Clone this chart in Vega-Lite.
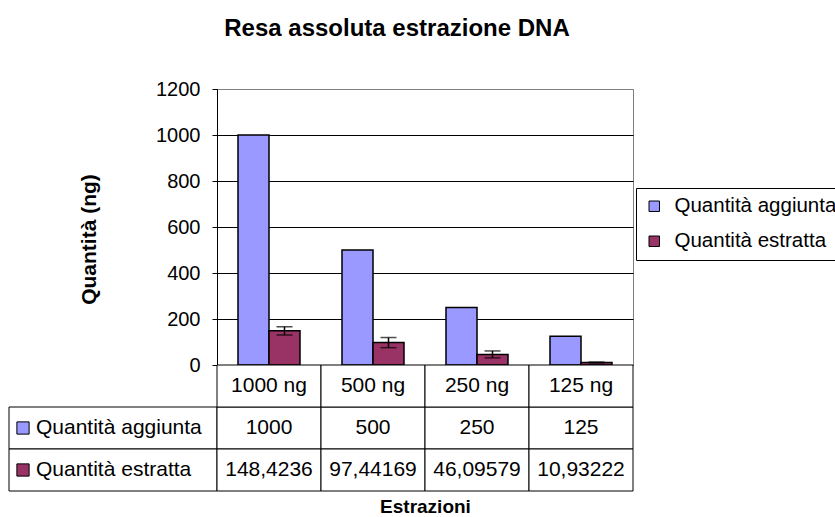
{
  "$schema": "https://vega.github.io/schema/vega-lite/v6.json",
  "background": "white",
  "padding": {"left": 8, "top": 16, "right": 0, "bottom": 2},
  "title": {"text": "Resa assoluta estrazione DNA", "fontSize": 24, "fontWeight": "bold", "anchor": "middle", "dx": -30, "offset": 38, "color": "black"},
  "datasets": {
    "d": [
      {"cat": "1000 ng", "series": "Quantità aggiunta", "value": 1000},
      {"cat": "1000 ng", "series": "Quantità estratta", "value": 148.4236, "err": 18},
      {"cat": "500 ng", "series": "Quantità aggiunta", "value": 500},
      {"cat": "500 ng", "series": "Quantità estratta", "value": 97.44169, "err": 22},
      {"cat": "250 ng", "series": "Quantità aggiunta", "value": 250},
      {"cat": "250 ng", "series": "Quantità estratta", "value": 46.09579, "err": 15},
      {"cat": "125 ng", "series": "Quantità aggiunta", "value": 125},
      {"cat": "125 ng", "series": "Quantità estratta", "value": 10.93222, "err": 2}
    ]
  },
  "columns": 2,
  "spacing": 0,
  "bounds": "flush",
  "concat": [
    {
      "width": 208, "height": 276,
      "data": {"values": []},
      "mark": "text",
      "encoding": {},
      "view": {"stroke": null}
    },
    {
      "width": 416, "height": 276,
      "data": {"name": "d"},
      "view": {"stroke": "#808080", "strokeWidth": 1},
      "encoding": {
        "x": {"field": "cat", "type": "nominal", "sort": null,
              "scale": {"domain": ["1000 ng", "500 ng", "250 ng", "125 ng"], "paddingInner": 0.4038, "paddingOuter": 0.2019},
              "axis": null},
        "xOffset": {"field": "series", "type": "nominal",
                    "scale": {"domain": ["Quantità aggiunta", "Quantità estratta"], "padding": 0}},
        "y": {"field": "value", "type": "quantitative",
              "scale": {"domain": [0, 1200], "nice": false},
              "axis": {
                "title": "Quantità (ng)", "titleFontSize": 21, "titleFontWeight": "bold", "titleColor": "black", "titlePadding": 56, "titleY": 150,
                "values": [0, 200, 400, 600, 800, 1000, 1200], "format": "d",
                "labelFontSize": 20, "labelColor": "black", "labelPadding": 12,
                "tickSize": 5, "tickColor": "black", "domainColor": "black",
                "grid": true, "gridOpacity": 1,
                "gridColor": {"condition": {"test": "datum.value === 1200", "value": "#808080"}, "value": "black"}
              }}
      },
      "layer": [
        {
          "mark": {"type": "bar", "stroke": "black", "strokeWidth": 1.5},
          "encoding": {
            "color": {"field": "series", "type": "nominal",
                      "scale": {"domain": ["Quantità aggiunta", "Quantità estratta"], "range": ["#9999FF", "#993366"]},
                      "legend": {"title": null, "orient": "none", "legendX": 627, "legendY": 99,
                                 "strokeColor": "black", "fillColor": "white", "padding": 8,
                                 "symbolType": "square", "symbolSize": 110, "symbolStrokeColor": "black", "symbolStrokeWidth": 1,
                                 "labelFontSize": 20.5, "labelColor": "black", "labelOffset": 10, "labelLimit": 0, "rowPadding": 14}}
          }
        },
        {
          "transform": [{"filter": "datum.series === 'Quantità estratta'"}],
          "mark": {"type": "errorbar", "ticks": {"size": 16, "color": "black", "thickness": 1.5}, "rule": {"color": "black", "strokeWidth": 1.5}},
          "encoding": {"yError": {"field": "err"}}
        }
      ]
    },
    {
      "width": 208, "height": 126,
      "data": {"name": "d"},
      "transform": [{"filter": "datum.cat === '1000 ng'"}],
      "view": {"stroke": null},
      "encoding": {
        "y": {"field": "series", "type": "nominal",
              "scale": {"domain": ["h", "Quantità aggiunta", "Quantità estratta"], "paddingInner": 0, "paddingOuter": 0},
              "axis": null}
      },
      "layer": [
        {
          "mark": {"type": "rect", "fill": "white", "stroke": "black", "strokeWidth": 1},
          "encoding": {
            "x": {"datum": 0, "type": "quantitative", "scale": {"domain": [0, 208], "nice": false, "zero": false}, "axis": null},
            "x2": {"datum": 208}
          }
        },
        {
          "mark": {"type": "point", "shape": "square", "size": 150, "filled": true, "stroke": "black", "strokeWidth": 1, "opacity": 1},
          "encoding": {
            "x": {"datum": 14, "type": "quantitative"},
            "color": {"field": "series", "type": "nominal",
                      "scale": {"domain": ["Quantità aggiunta", "Quantità estratta"], "range": ["#9999FF", "#993366"]},
                      "legend": null}
          }
        },
        {
          "mark": {"type": "text", "align": "left", "baseline": "middle", "fontSize": 21, "color": "black"},
          "encoding": {
            "x": {"datum": 27, "type": "quantitative"},
            "text": {"field": "series"}
          }
        }
      ]
    },
    {
      "width": 416, "height": 126,
      "data": {"name": "d"},
      "view": {"stroke": null},
      "encoding": {
        "x": {"field": "cat", "type": "nominal", "sort": null,
              "scale": {"domain": ["1000 ng", "500 ng", "250 ng", "125 ng"], "paddingInner": 0, "paddingOuter": 0},
              "axis": {"title": "Estrazioni", "labels": false, "ticks": false, "domain": false,
                       "titleFontSize": 19, "titleFontWeight": "bold", "titleColor": "black", "titlePadding": 6}},
        "y": {"field": "series", "type": "nominal",
              "scale": {"domain": ["h", "Quantità aggiunta", "Quantità estratta"], "paddingInner": 0, "paddingOuter": 0},
              "axis": null}
      },
      "layer": [
        {"mark": {"type": "rect", "fill": "white", "stroke": "black", "strokeWidth": 1}},
        {
          "transform": [{"filter": "datum.series === 'Quantità aggiunta'"}],
          "mark": {"type": "rect", "fill": "white", "stroke": "black", "strokeWidth": 1},
          "encoding": {"y": {"datum": "h"}}
        },
        {
          "mark": {"type": "text", "fontSize": 21, "color": "black", "baseline": "middle"},
          "encoding": {"text": {"field": "value", "type": "quantitative", "format": ".7~g"}}
        },
        {
          "transform": [{"filter": "datum.series === 'Quantità aggiunta'"}],
          "mark": {"type": "text", "fontSize": 21, "color": "black", "baseline": "middle"},
          "encoding": {"y": {"datum": "h"}, "text": {"field": "cat"}}
        }
      ]
    }
  ],
  "config": {
    "font": "Liberation Sans",
    "locale": {"number": {"decimal": ",", "thousands": ".", "grouping": [3], "currency": ["", " €"]}}
  }
}
